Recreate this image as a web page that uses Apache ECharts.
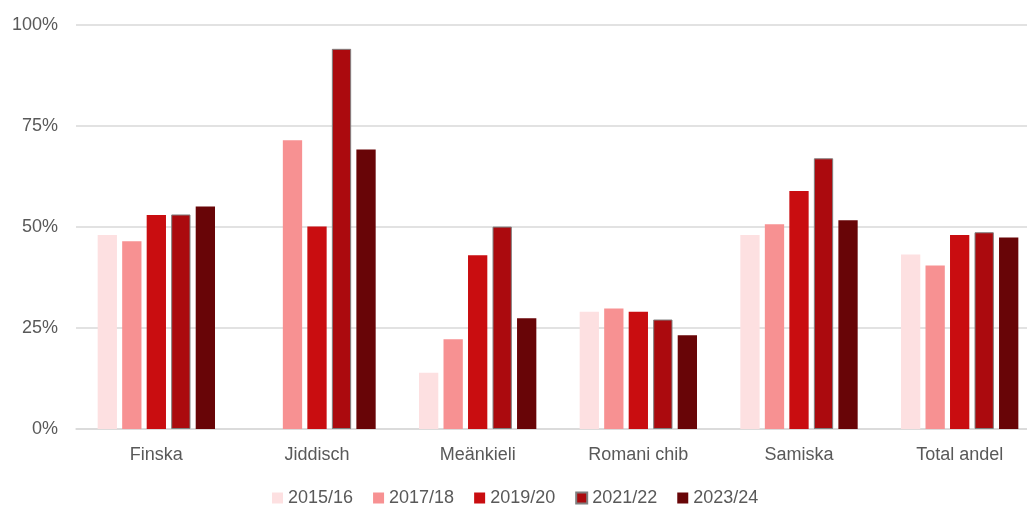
<!DOCTYPE html>
<html><head><meta charset="utf-8">
<script src="https://cdn.jsdelivr.net/npm/echarts@6/dist/echarts.min.js"></script>
<style>html,body{margin:0;padding:0;background:#fff;overflow:hidden}#c{width:1040px;height:508px}</style>
</head><body><div id="c"></div>
<script>
const categories = ['Finska', 'Jiddisch', 'Meänkieli', 'Romani chib', 'Samiska', 'Total andel'];
const seriesNames = ['2015/16', '2017/18', '2019/20', '2021/22', '2023/24'];
const v2015 = [48.0, null, 13.9, 29.0, 48.0, 43.2];
const v2017 = [46.5, 71.5, 22.2, 29.8, 50.7, 40.5];
const v2019 = [53.0, 50.1, 43.0, 29.0, 58.9, 48.0];
const v2021 = [53.1, 94.1, 50.1, 27.1, 67.0, 48.7];
const v2023 = [55.1, 69.2, 27.4, 23.2, 51.7, 47.4];
const yTicks = [0, 25, 50, 75, 100];

const colors = ['#fde0e1', '#f79192', '#c90d10', '#ab0a0e', '#680507'];
const values = [v2015, v2017, v2019, v2021, v2023];
const font = 'Liberation Sans, Arial, sans-serif';

const chart = echarts.init(document.getElementById('c'));
chart.setOption({
  animation: false,
  grid: { left: 76, right: 0, top: 25, bottom: 79, containLabel: false },
  legend: {
    top: 489, left: 272, padding: 0,
    icon: 'rect',
    itemWidth: 11, itemHeight: 11, itemGap: 20,
    textStyle: { color: '#595959', fontSize: 18, fontFamily: font },
    data: seriesNames
  },
  xAxis: {
    type: 'category', data: categories,
    axisLine: { lineStyle: { color: '#d9d9d9', width: 1.5 } },
    axisTick: { show: false },
    axisLabel: { color: '#595959', fontSize: 18, fontFamily: font, margin: 17 }
  },
  yAxis: {
    type: 'value', min: yTicks[0], max: yTicks[yTicks.length - 1], interval: 25,
    axisLine: { show: false }, axisTick: { show: false },
    splitLine: { lineStyle: { color: '#d9d9d9', width: 1.5 } },
    axisLabel: { color: '#595959', fontSize: 18, fontFamily: font, margin: 18, formatter: '{value}%' }
  },
  series: seriesNames.map((n, i) => ({
    name: n, type: 'bar', data: values[i],
    barWidth: 19.3, barGap: '27%',
    itemStyle: i === 3
      ? { color: colors[i], borderColor: '#7f7f7f', borderWidth: 1 }
      : { color: colors[i] }
  }))
});
</script></body></html>
